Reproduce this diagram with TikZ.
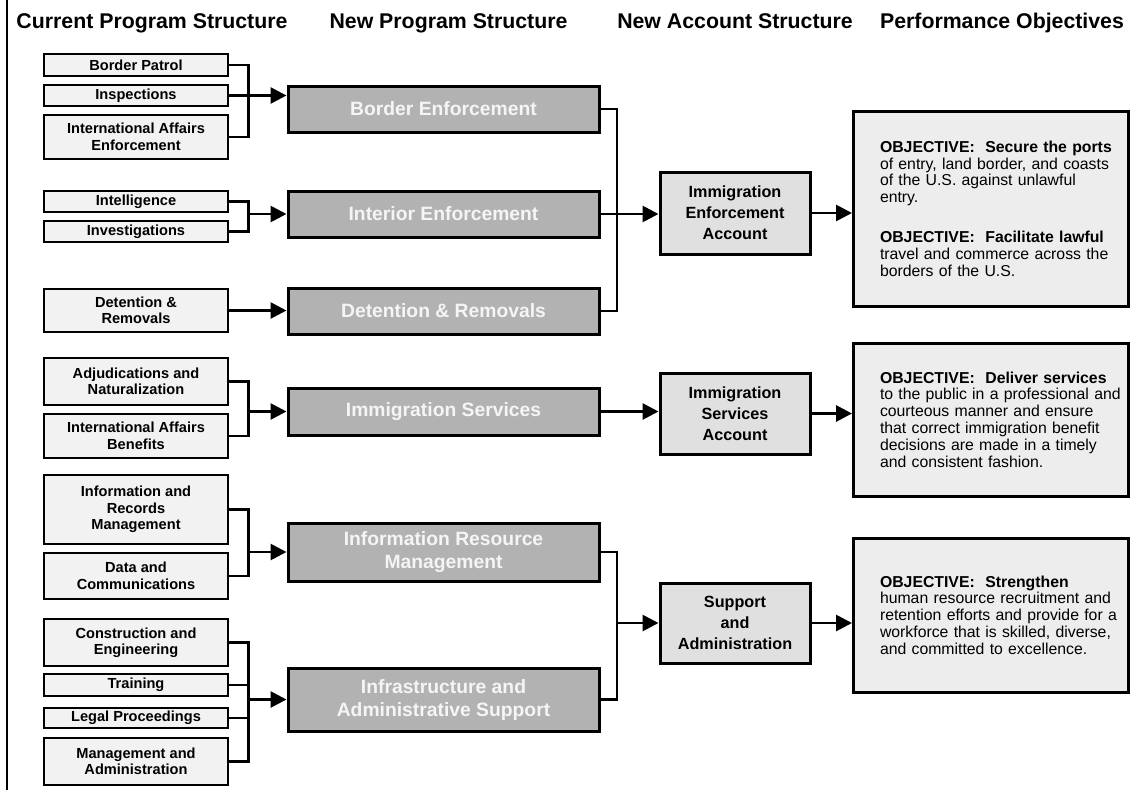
\documentclass[tikz,border=0pt]{standalone}
\usepackage{fontspec}
\setmainfont{Liberation Sans}
\usetikzlibrary{positioning,calc,arrows.meta}

\begin{document}
\begin{tikzpicture}[x=1pt, y=-1pt,
    oldprog/.style={draw, line width=2.8pt, fill=black!5, minimum width=184pt, inner sep=0pt, align=center, font=\fontsize{14.6}{16.5}\selectfont\bfseries},
    newprog/.style={draw, line width=3pt, fill=black!30, text=black!4, minimum width=311pt, inner sep=0pt, align=center, font=\fontsize{19.3}{23}\selectfont\bfseries},
    account/.style={draw, line width=3pt, fill=black!12, minimum width=150pt, inner sep=0pt, align=center, font=\fontsize{16.2}{21}\selectfont\bfseries},
    objbox/.style={draw, line width=3pt, fill=black!7, minimum width=275pt, text width=264pt, inner sep=0pt, align=left, font=\fontsize{15.8}{16.8}\selectfont, execute at begin node={\leftskip=21pt}},
    heading/.style={anchor=base, font=\fontsize{21.3}{24}\selectfont\bfseries},
    link/.style={line width=2.8pt},
    feed/.style={link, -{Triangle[length=16pt, width=16pt]}}
]
    \useasboundingbox (0,0) rectangle (1131,790);

    % Column headings
    \node [heading] (hcur) at (152,28) {Current Program Structure};
    \node [heading] (hnew) at (448.5,28) {New Program Structure};
    \node [heading] (hacct) at (735,28) {New Account Structure};
    \node [heading] (hperf) at (1002,28) {Performance Objectives};
    \draw [line width=2.6pt] (7,0) -- (7,790);

    % Current programs
    \node [oldprog, minimum height=22pt] (bp) at (136,65) {Border Patrol};
    \node [oldprog, minimum height=21pt] (insp) at (136,95.5) {Inspections};
    \node [oldprog, minimum height=44pt] (iae) at (136,137) {International Affairs\\Enforcement};
    \node [oldprog, minimum height=21pt] (intel) at (136,201.5) {Intelligence};
    \node [oldprog, minimum height=21pt] (invest) at (136,231.5) {Investigations};
    \node [oldprog, minimum height=43pt] (detrem) at (136,310.5) {Detention \&\\Removals};
    \node [oldprog, minimum height=47pt] (adjud) at (136,381.5) {Adjudications and\\Naturalization};
    \node [oldprog, minimum height=44pt] (iab) at (136,436) {International Affairs\\Benefits};
    \node [oldprog, minimum height=69pt] (records) at (136,509.5) {Information and\\Records\\Management};
    \node [oldprog, minimum height=46pt] (datacom) at (136,576) {Data and\\Communications};
    \node [oldprog, minimum height=47pt] (constr) at (136,642.5) {Construction and\\Engineering};
    \node [oldprog, minimum height=22pt] (train) at (136,685) {Training};
    \node [oldprog, minimum height=20pt] (legal) at (136,718) {Legal Proceedings};
    \node [oldprog, minimum height=47pt] (mgmt) at (136,761.5) {Management and\\Administration};

    % New programs
    \node [newprog, minimum height=46pt] (border) at (443.5,109) {Border Enforcement};
    \node [newprog, minimum height=46pt] (interior) at (443.5,214) {Interior Enforcement};
    \node [newprog, minimum height=46pt] (detention) at (443.5,311) {Detention \& Removals};
    \node [newprog, minimum height=47pt] (services) at (443.5,411.5) {Immigration Services};
    \node [newprog, minimum height=58pt] (irm) at (443.5,552) {Information Resource\\Management};
    \node [newprog, minimum height=63pt] (infra) at (443.5,699.5) {Infrastructure and\\Administrative Support};

    % Accounts
    \node [account, minimum height=82pt] (enfacct) at (735,213) {Immigration\\Enforcement\\Account};
    \node [account, minimum height=81pt] (servacct) at (735,413.5) {Immigration\\Services\\Account};
    \node [account, minimum height=80pt] (supacct) at (735,623) {Support\\and\\Administration};

    % Objectives
    \node [objbox, minimum height=195pt] (obj1) at (991,208.5) {\textbf{OBJECTIVE:\ \ Secure the ports}\\of entry, land border, and coasts\\of the U.S. against unlawful\\entry.\\[23pt]\textbf{OBJECTIVE:\ \ Facilitate lawful}\\travel and commerce across the\\borders of the U.S.};
    \node [objbox, minimum height=153pt] (obj2) at (991,419.5) {\textbf{OBJECTIVE:\ \ Deliver services}\\to the public in a professional and\\courteous manner and ensure\\that correct immigration benefit\\decisions are made in a timely\\and consistent fashion.};
    \node [objbox, minimum height=154pt] (obj3) at (991,615) {\textbf{OBJECTIVE:\ \ Strengthen}\\human resource recruitment and\\retention efforts and provide for a\\workforce that is skilled, diverse,\\and committed to excellence.};

    % Brackets into the new programs
    \coordinate (ljoin) at (247,0);
    \draw [link] (bp.east) -- ++(19,0) |- (iae.east);
    \draw [feed] (insp.east) -- (insp.east -| border.west);
    \draw [link] (intel.east) -- ++(19,0) |- (invest.east);
    \draw [feed] (interior.west -| ljoin) -- (interior.west);
    \draw [feed] (detrem.east) -- (detrem.east -| detention.west);
    \draw [link] (adjud.east) -- ++(19,0) |- (iab.east);
    \draw [feed] (services.west -| ljoin) -- (services.west);
    \draw [link] (records.east) -- ++(19,0) |- (datacom.east);
    \draw [feed] (irm.west -| ljoin) -- (irm.west);
    \draw [link] (constr.east) -- ++(19,0) |- (mgmt.east);
    \draw [link] (train.east) -- (train.east -| ljoin);
    \draw [link] (legal.east) -- (legal.east -| ljoin);
    \draw [feed] (infra.west -| ljoin) -- (infra.west);

    % Brackets into the accounts
    \coordinate (rjoin) at (617,0);
    \draw [link] (border.east) -| (rjoin |- detention.east) -- (detention.east);
    \draw [feed] (interior.east) -- (interior.east -| enfacct.west);
    \draw [feed] (services.east) -- (services.east -| servacct.west);
    \draw [link] (irm.east) -| (rjoin |- infra.east) -- (infra.east);
    \draw [feed] (supacct.west -| rjoin) -- (supacct.west);

    % Accounts to objectives
    \draw [feed] (enfacct.east) -- (enfacct.east -| obj1.west);
    \draw [feed] (servacct.east) -- (servacct.east -| obj2.west);
    \draw [feed] (supacct.east) -- (supacct.east -| obj3.west);
\end{tikzpicture}
\end{document}
